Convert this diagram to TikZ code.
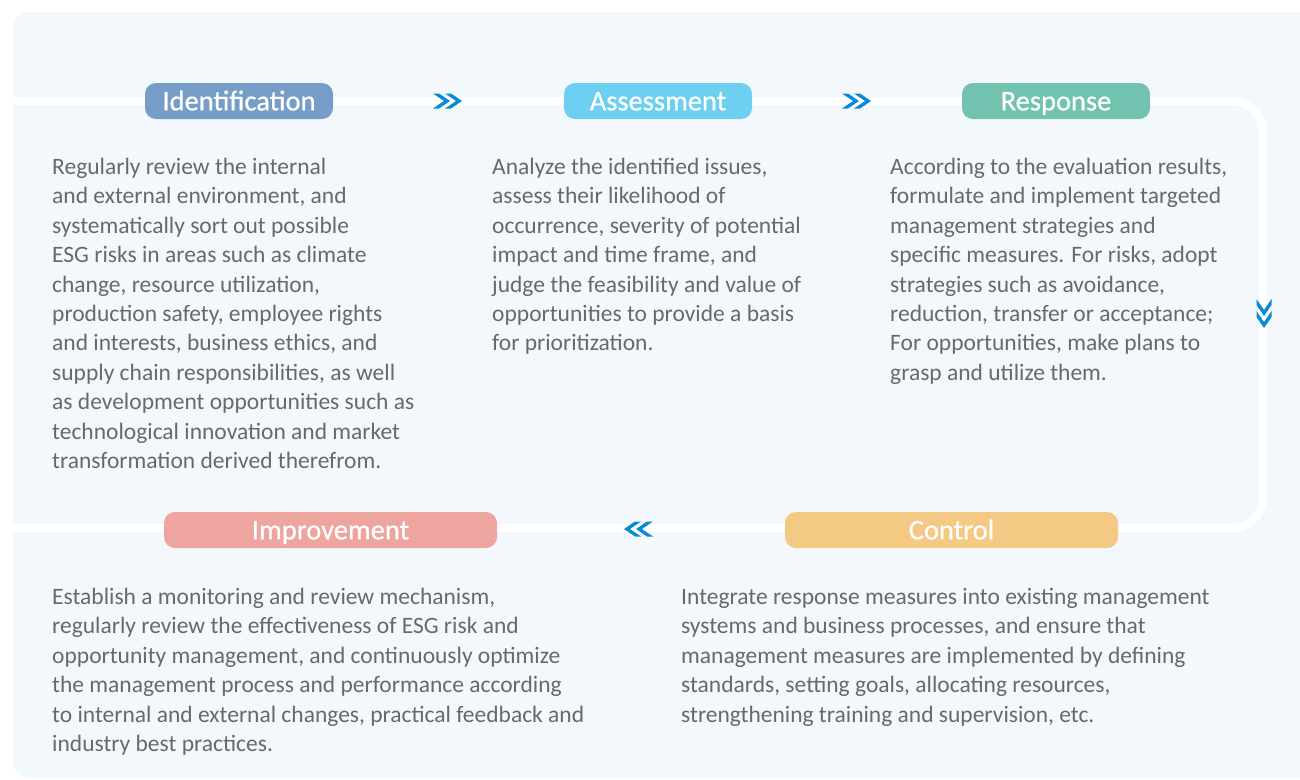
\documentclass[tikz,border=0pt]{standalone}
\usepackage{fontspec}
\setmainfont{Carlito}
\newfontfamily\pillfont[FakeBold=0.6]{Carlito}
\definecolor{panelbg}{RGB}{243,248,253}
\definecolor{chevblue}{RGB}{10,138,214}
\definecolor{bodygray}{RGB}{105,105,105}
\definecolor{idblue}{RGB}{118,157,199}
\definecolor{ascyan}{RGB}{109,208,240}
\definecolor{resgreen}{RGB}{114,194,176}
\definecolor{imppink}{RGB}{238,164,159}
\definecolor{ctlyellow}{RGB}{244,201,132}
\tikzset{
  pill/.style={rounded corners=11pt, minimum height=36pt, inner sep=0pt,
    text height=18.7pt, text depth=0pt,
    text=white, font=\pillfont\fontsize{28.5}{32}\selectfont},
  bodytext/.style={anchor=north west, inner sep=0pt, align=left, text=bodygray,
    font=\fontsize{23.5}{29.4}\selectfont},
  track/.style={white, line width=8pt, rounded corners=31pt},
  chevpair/.pic={
    \foreach \dx in {-6,6}{
      \fill[chevblue, shift={(\dx,0)}] (-9,-7.5) -- (-3,-7.5) -- (8,0) -- (-3,7.5) -- (-9,7.5) -- (2,0) -- cycle;
    }
  }
}
\begin{document}
\begin{tikzpicture}[x=1pt, y=-1pt]
\useasboundingbox (0,0) rectangle (1300,779);
\clip (0,0) rectangle (1300,779);
% background panel
\fill[panelbg, rounded corners=16pt] (13,12) rectangle (1330,778);
% loop track
\coordinate (tstart) at (13,101);
\coordinate (tcornerA) at (1263,101);
\coordinate (tcornerB) at (1263,528);
\coordinate (tend) at (13,528);
\draw[track] (tstart) -- (tcornerA) -- (tcornerB) -- (tend);
% direction marks
\pic at (448,101) {chevpair};
\pic at (857,101) {chevpair};
\pic[rotate=-90] at (1264,314) {chevpair};
\pic[rotate=180] at (638,529) {chevpair};
% stage labels
\node[pill, fill=idblue, minimum width=188pt] (ident) at (239,101) {Identification};
\node[pill, fill=ascyan, minimum width=188pt] (assess) at (658,101) {Assessment};
\node[pill, fill=resgreen, minimum width=188pt] (resp) at (1056,101) {Response};
\node[pill, fill=imppink, minimum width=333pt] (impr) at (330.5,530) {Improvement};
\node[pill, fill=ctlyellow, minimum width=333pt] (ctrl) at (951.5,530) {Control};
% descriptions
\node[bodytext] (identtxt) at (52,158) {Regularly review the internal\\
and external environment, and\\
systematically sort out possible\\
ESG risks in areas such as climate\\
change, resource utilization,\\
production safety, employee rights\\
and interests, business ethics, and\\
supply chain responsibilities, as well\\
as development opportunities such as\\
technological innovation and market\\
transformation derived therefrom.};
\node[bodytext] (assesstxt) at (492,158) {Analyze the identified issues,\\
assess their likelihood of\\
occurrence, severity of potential\\
impact and time frame, and\\
judge the feasibility and value of\\
opportunities to provide a basis\\
for prioritization.};
\node[bodytext] (resptxt) at (890,158) {According to the evaluation results,\\
formulate and implement targeted\\
management strategies and\\
specific measures. For risks, adopt\\
strategies such as avoidance,\\
reduction, transfer or acceptance;\\
For opportunities, make plans to\\
grasp and utilize them.};
\node[bodytext] (imprtxt) at (52,588) {Establish a monitoring and review mechanism,\\
regularly review the effectiveness of ESG risk and\\
opportunity management, and continuously optimize\\
the management process and performance according\\
to internal and external changes, practical feedback and\\
industry best practices.};
\node[bodytext] (ctrltxt) at (681,588) {Integrate response measures into existing management\\
systems and business processes, and ensure that\\
management measures are implemented by defining\\
standards, setting goals, allocating resources,\\
strengthening training and supervision, etc.};
\end{tikzpicture}
\end{document}
